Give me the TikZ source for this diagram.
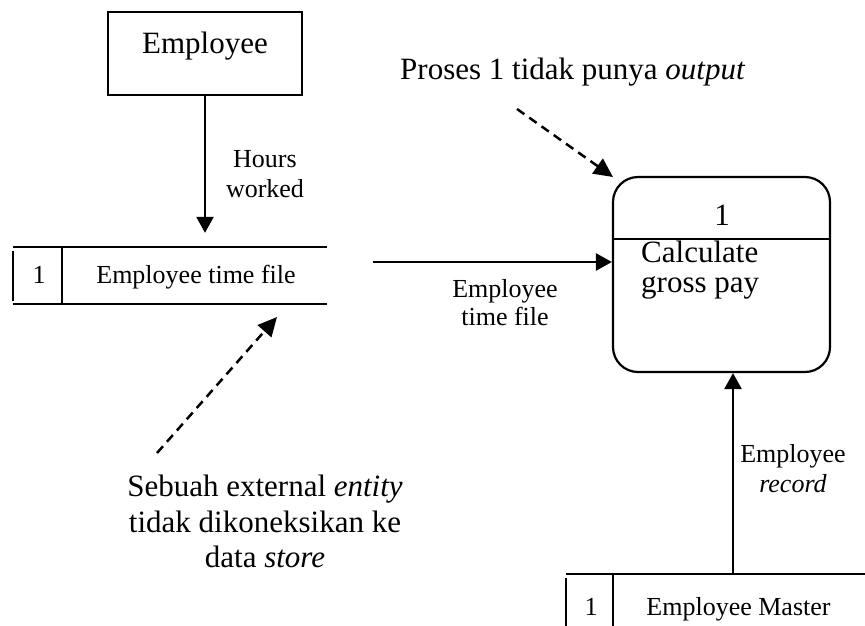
\documentclass[tikz,border=0pt]{standalone}
\usepackage{fontspec}
\setmainfont{Liberation Serif}
\usetikzlibrary{arrows.meta}

\begin{document}
\begin{tikzpicture}[x=1pt, y=-1pt,
  big/.style={font=\fontsize{31}{35}\selectfont, inner sep=0pt, anchor=base},
  small/.style={font=\fontsize{26}{30}\selectfont, inner sep=0pt, anchor=base},
  ln/.style={line width=2.2pt},
  flow/.style={line width=2.5pt, -{Triangle[length=16pt,width=17pt]}},
  note/.style={line width=2.5pt, dash pattern=on 9pt off 6pt,
               -{Triangle[length=19pt,width=18pt]}},
  entitybox/.style={draw, ln, minimum width=194pt, minimum height=83pt, inner sep=0pt},
  procbox/.style={draw, ln, rounded corners=25pt, minimum width=217pt,
                  minimum height=195pt, inner sep=0pt},
  storebox/.style={inner sep=0pt}
]
\useasboundingbox (0,0) rectangle (865,625);

% external entity
\node[entitybox] (emp) at (205,53.5) {};
\node[big] (empname) at (205,53) {Employee};

% data store 1
\node[storebox, minimum width=314pt, minimum height=57pt] (ds1) at (170,275.5) {};
\draw[ln] (ds1.north west) -- (ds1.north east);
\draw[ln] (ds1.south west) -- (ds1.south east);
\draw[ln] ([yshift=-4pt]ds1.north west) -- ([yshift=3pt]ds1.south west);
\draw[ln] (62,247) -- (62,304);
\node[small] (ds1id) at (39,283) {1};
\node[small] (ds1name) at (196,283) {Employee time file};

% process 1
\node[procbox] (proc) at (721.5,274.5) {};
\draw[ln] (proc.west |- 0,239) -- (proc.east |- 0,239);
\node[big] (procid) at (722,225) {1};
\node[big, anchor=base west] (procname1) at (641,262) {Calculate};
\node[big, anchor=base west] (procname2) at (641,292) {gross pay};

% data store: employee master
\node[storebox, minimum width=320pt, minimum height=70pt, anchor=north west]
  (ds2) at (566,574) {};
\draw[ln] (ds2.north west) -- (ds2.north east);
\draw[ln] ([yshift=-4pt]ds2.north west) -- (ds2.south west);
\draw[ln] (613,574) -- (613,630);
\node[small] (ds2id) at (591,615) {1};
\node[small] (ds2name) at (738.5,615) {Employee Master};

% data flows
\draw[flow, shorten >=14pt] (emp.south) -- (emp.south |- ds1.north);
\node[small] (hw1) at (265,167) {Hours};
\node[small] (hw2) at (265,197) {worked};

\coordinate (fa) at (373,262);
\draw[flow] (fa) -- (fa -| proc.west);
\node[small] (etf1) at (505,297) {Employee};
\node[small] (etf2) at (505,325) {time file};

\coordinate (fb) at (733,574);
\draw[flow] (fb) -- (fb |- proc.south);
\node[small] (er1) at (793,462) {Employee};
\node[small] (er2) at (793,492) {\textit{record}};

% annotations
\coordinate (n1s) at (517,109);
\coordinate (n1e) at (613,177);
\draw[note] (n1s) -- (n1e);
\node[big, anchor=base west] (n1) at (400,79)
  {Proses 1 tidak punya \textit{output}};

\coordinate (n2s) at (157,453);
\coordinate (n2e) at (277,317);
\draw[note] (n2s) -- (n2e);
\node[big] (n2a) at (265,496) {Sebuah external \textit{entity}};
\node[big] (n2b) at (265,532) {tidak dikoneksikan ke};
\node[big] (n2c) at (265,567) {data \textit{store}};

\end{tikzpicture}
\end{document}
